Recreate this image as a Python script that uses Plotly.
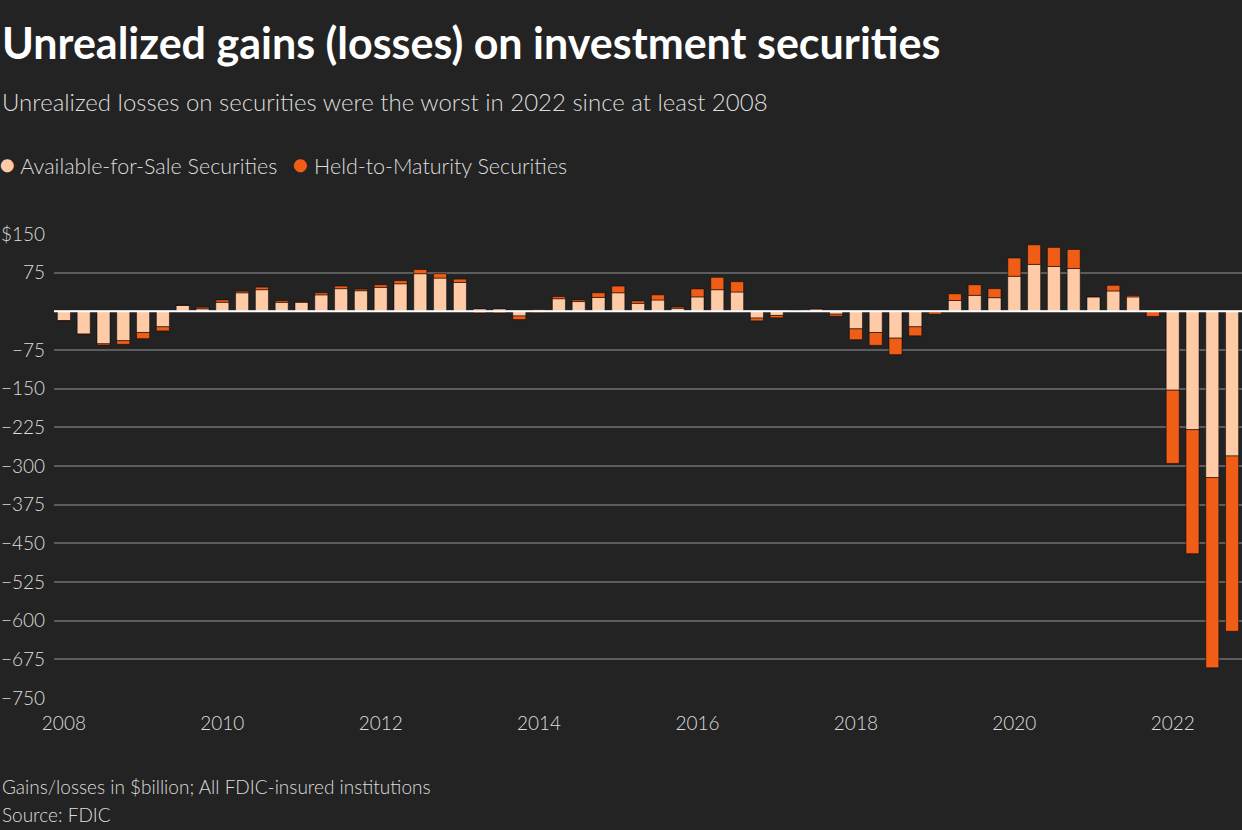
import plotly.graph_objects as go

quarters = [
    "2008Q1", "2008Q2", "2008Q3", "2008Q4", "2009Q1", "2009Q2", "2009Q3", "2009Q4",
    "2010Q1", "2010Q2", "2010Q3", "2010Q4", "2011Q1", "2011Q2", "2011Q3", "2011Q4",
    "2012Q1", "2012Q2", "2012Q3", "2012Q4", "2013Q1", "2013Q2", "2013Q3", "2013Q4",
    "2014Q1", "2014Q2", "2014Q3", "2014Q4", "2015Q1", "2015Q2", "2015Q3", "2015Q4",
    "2016Q1", "2016Q2", "2016Q3", "2016Q4", "2017Q1", "2017Q2", "2017Q3", "2017Q4",
    "2018Q1", "2018Q2", "2018Q3", "2018Q4", "2019Q1", "2019Q2", "2019Q3", "2019Q4",
    "2020Q1", "2020Q2", "2020Q3", "2020Q4", "2021Q1", "2021Q2", "2021Q3", "2021Q4",
    "2022Q1", "2022Q2", "2022Q3", "2022Q4",
]

available_for_sale = [
    -18, -44, -63, -57, -41, -30, 11.5, 5,
    17.5, 36, 42, 17.5, 17.5, 32, 44, 40,
    46.5, 53.5, 73, 64.5, 56, 4.5, 4.5, -9,
    3, 24.5, 19, 27, 36, 15.5, 22, 6,
    28, 42, 37.5, -13, -8, 0.5, 4.5, -5.5,
    -34, -41, -52, -30, -1, 21, 31, 26.5,
    68, 91, 87, 83, 28, 39.5, 28, 2,
    -153, -229.5, -322.5, -280.5,
]

held_to_maturity = [
    -1, -1, -2.5, -7, -12, -8, 0.5, 3,
    4.5, 3, 5, 3, 1.5, 4, 5, 3,
    5, 6, 8, 8.5, 6.5, -3, -3, -7,
    -2.5, 4, 3, 9, 13, 4.5, 10, 2.5,
    15.5, 24, 20, -5.5, -4.5, 0, 0.6, -4,
    -21, -25, -32, -17.5, -4.5, 13, 20.5, 17.5,
    35.5, 38, 37, 37, 0.5, 11, 2.6, -10,
    -142, -240.5, -369, -340,
]

tick_quarters = ["2008Q1", "2010Q1", "2012Q1", "2014Q1", "2016Q1", "2018Q1", "2020Q1", "2022Q1"]
tick_years = ["2008", "2010", "2012", "2014", "2016", "2018", "2020", "2022"]

y_tick_vals = [150, 75, 0, -75, -150, -225, -300, -375, -450, -525, -600, -675, -750]
y_tick_text = ["$150", "75", "", "\u221275", "\u2212150", "\u2212225", "\u2212300", "\u2212375",
               "\u2212450", "\u2212525", "\u2212600", "\u2212675", "\u2212750"]

AFS_COLOR = "#FFCBA6"
HTM_COLOR = "#EF5D17"
BG = "#232323"
FONT = "Lato"

fig = go.Figure()
fig.add_trace(go.Bar(
    x=quarters, y=available_for_sale, name="Available-for-Sale Securities",
    marker=dict(color=AFS_COLOR, line=dict(color="rgba(0,0,0,0.5)", width=1)),
    showlegend=False,
))
fig.add_trace(go.Bar(
    x=quarters, y=held_to_maturity, name="Held-to-Maturity Securities",
    marker=dict(color=HTM_COLOR, line=dict(color="rgba(0,0,0,0.5)", width=1)),
    showlegend=False,
))

fig.update_layout(
    width=1242, height=830,
    paper_bgcolor=BG, plot_bgcolor=BG,
    barmode="relative", bargap=0.34,
    margin=dict(l=54, r=0, t=234, b=132),
    font=dict(family=FONT, color="#dddddd"),
    showlegend=False,
)
fig.update_xaxes(
    type="category", categoryorder="array", categoryarray=quarters,
    tickvals=tick_quarters, ticktext=tick_years,
    tickfont=dict(family=FONT, size=19, color="#dddddd", weight=300),
    showgrid=False, ticks="", showline=False, zeroline=False,
    ticklabelstandoff=12,
)
fig.update_yaxes(
    range=[-750, 150], tickvals=y_tick_vals, ticktext=y_tick_text,
    tickfont=dict(family=FONT, size=19, color="#dddddd", weight=300),
    showgrid=True, gridcolor="#5c5c5c", gridwidth=2,
    zeroline=False,
    ticks="", ticklabelstandoff=8,
)
# zero baseline drawn above the bars, as in the reference
fig.add_hline(y=0, line=dict(color="#ffffff", width=2), layer="above")

annotations = [
    dict(text="<b>Unrealized gains (losses) on investment securities</b>",
         x=0, y=42, font=dict(size=43, color="#ffffff", family=FONT)),
    dict(text="Unrealized losses on securities were the worst in 2022 since at least 2008",
         x=0, y=101, font=dict(size=24, color="#dddddd", family=FONT, weight=300)),
    dict(text=f"<span style='color:{AFS_COLOR};font-size:27px'>\u25cf</span> Available-for-Sale Securities",
         x=-3, y=163, font=dict(size=21.5, color="#dddddd", family=FONT, weight=300)),
    dict(text=f"<span style='color:{HTM_COLOR};font-size:27px'>\u25cf</span> Held-to-Maturity Securities",
         x=290, y=163, font=dict(size=21.5, color="#dddddd", family=FONT, weight=300)),
    dict(text="Gains/losses in $billion; All FDIC-insured institutions",
         x=0, y=786, font=dict(size=19, color="#dddddd", family=FONT, weight=300)),
    dict(text="Source: FDIC",
         x=0, y=814, font=dict(size=19, color="#dddddd", family=FONT, weight=300)),
]
for a in annotations:
    fig.add_annotation(
        text=a["text"], xref="paper", yref="paper",
        x=(a["x"] - 54) / (1242 - 54), y=1 - (a["y"] - 234) / (830 - 234 - 132),
        xanchor="left", yanchor="middle", showarrow=False, align="left",
        font=a["font"],
    )

fig.write_html("out.html")
